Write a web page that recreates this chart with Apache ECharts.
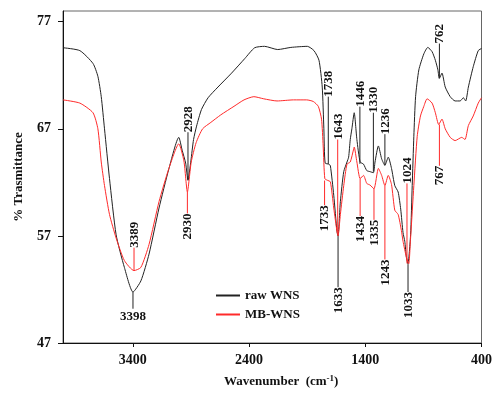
<!DOCTYPE html>
<html>
<head>
<meta charset="utf-8">
<script src="https://cdn.jsdelivr.net/npm/echarts@6/dist/echarts.min.js"></script>
<style>html,body{margin:0;padding:0;background:#fff}#c{width:495px;height:393px}</style>
</head>
<body>
<div id="c"></div>
<script>
// ---- data (wavenumber cm-1, % transmittance) ----
const rawWN = [4000,3855,3742,3700,3671,3643,3600,3543,3472,3398,3330,3260,3174,3089,3004,2975,2945,2925,2900,2877,2851,2809,2752,2667,2550,2437,2351,2266,2153,2040,1898,1841,1798,1770,1756,1745,1713,1700,1671,1643,1634,1614,1585,1557,1543,1529,1515,1495,1472,1444,1415,1387,1359,1330,1316,1287,1259,1231,1202,1174,1146,1117,1095,1075,1060,1046,1033,1010,996,982,967,939,896,862,825,797,775,763,740,712,669,627,584,556,536,513,471,428,400];
const rawT  = [74.57,74.3,73.1,71.9,70.0,67.0,62.35,57.1,54.06,51.76,52.8,55.3,59.6,63.27,66.2,65.0,63.8,62.2,64.0,66.0,67.25,68.8,69.9,70.9,72.2,73.55,74.57,74.7,74.4,74.6,74.7,74.3,73.4,70.9,67.0,63.8,63.7,63.55,60.8,57.4,57.0,60.2,63.0,63.9,64.35,66.0,67.0,68.5,66.0,63.9,63.7,63.1,63.0,62.9,63.9,65.4,64.2,63.6,64.35,63.3,61.7,61.1,59.5,57.3,56.5,55.0,54.4,57.1,61.7,66.3,70.0,72.5,74.0,74.6,74.2,73.4,72.5,71.7,72.2,70.9,70.0,69.6,69.6,69.9,69.6,70.9,72.8,74.3,74.5];
const mbWN  = [4000,3855,3742,3700,3671,3643,3600,3543,3472,3389,3330,3260,3174,3089,3004,2960,2930,2897,2855,2799,2728,2643,2529,2443,2358,2273,2159,2017,1904,1847,1804,1776,1762,1748,1727,1700,1671,1643,1634,1614,1585,1557,1529,1500,1495,1472,1444,1415,1387,1359,1325,1287,1259,1231,1202,1174,1146,1117,1089,1075,1046,1026,1010,982,953,925,896,868,825,797,768,740,712,669,627,570,542,513,471,428,400];
const mbT   = [69.7,69.4,68.5,67.0,63.9,61.7,59.0,56.8,54.7,53.76,54.06,56.2,60.2,63.3,65.6,64.0,61.1,63.9,65.7,67.0,67.6,68.3,69.1,69.7,70.0,69.8,69.6,69.7,69.7,69.55,69.1,67.9,65.4,62.35,62.2,62.05,59.6,57.4,57.0,59.0,61.7,63.7,63.9,65.1,65.3,63.9,62.35,62.65,61.9,61.75,61.4,63.3,62.65,61.7,62.65,61.8,59.4,59.0,57.5,56.5,55.0,54.4,56.8,61.7,66.3,68.2,69.1,69.8,69.4,68.5,67.4,67.9,67.0,66.2,65.9,66.2,66.0,67.3,68.2,69.4,69.9];

// ---- peak annotations ----
const annLabels = ['3398','3389','2928','2930','1738','1733','1643','1633','1446','1330','1434','1335','1236','1243','1024','1033','762','767'];
const annSeries = ['raw','mb','raw','mb','raw','mb','mb','raw','raw','raw','mb','mb','raw','mb','mb','raw','raw','mb'];
const annX      = [3398,3389,2925,2930,1718,1750,1637,1634,1446,1330,1444,1325,1231,1231,1041,1032,762,762];
const annCurve  = [51.76,53.76,62.2,61.1,63.73,62.17,57.3,57.0,63.73,63.0,62.35,61.43,63.57,61.7,54.43,54.37,71.75,67.4];
const annEnd    = [50.2,55.9,66.68,59.1,70.0,59.86,66.0,52.2,69.07,68.5,58.85,58.5,66.5,54.8,61.9,51.76,74.96,63.55];
const annHorizontal = ['3398'];

const xTicks = [3400,2400,1400,400];
const yTicks = [47,57,67,77];

const seriesNames = {raw:'raw WNS', mb:'MB-WNS'};
const colors = {raw:'#222222', mb:'#ff2a2a'};
const FONT = '"Liberation Serif","Times New Roman",serif';

const chart = echarts.init(document.getElementById('c'));
chart.setOption({
  animation:false,
  backgroundColor:'#fff',
  grid:{left:63,right:9,top:11,bottom:46,show:true,borderColor:'#666',borderWidth:1,backgroundColor:'transparent'},
  legend:{
    orient:'vertical',left:211,top:284,itemWidth:24,itemHeight:2,itemGap:6,icon:'rect',
    data:[seriesNames.raw,seriesNames.mb],
    textStyle:{fontFamily:FONT,fontWeight:'bold',fontSize:13,color:'#111'}
  },
  xAxis:{
    type:'value',min:400,max:4000,inverse:true,
    name:'Wavenumber  (cm{sup|-1})',nameLocation:'middle',nameGap:31,
    nameTextStyle:{fontFamily:FONT,fontWeight:'bold',fontSize:13,color:'#111',padding:[0,0,0,18],
      rich:{sup:{fontFamily:FONT,fontWeight:'bold',fontSize:9,verticalAlign:'top',padding:[0,0,6,0]}}},
    axisLine:{lineStyle:{color:'#111',width:1}},
    axisTick:{show:true,length:4,customValues:xTicks,lineStyle:{color:'#111'}},
    axisLabel:{customValues:xTicks,margin:10,fontFamily:FONT,fontWeight:'bold',fontSize:14,color:'#111',
      formatter:function(v){return String(v);}},
    splitLine:{show:false}
  },
  yAxis:{
    type:'value',min:47,max:78,
    name:'% Trasmittance',nameLocation:'middle',nameGap:38,nameRotate:90,
    nameTextStyle:{fontFamily:FONT,fontWeight:'bold',fontSize:13,color:'#111'},
    axisLine:{show:true,lineStyle:{color:'#111',width:1}},
    axisTick:{show:true,length:5,customValues:yTicks,lineStyle:{color:'#111'}},
    axisLabel:{customValues:yTicks,margin:12,fontFamily:FONT,fontWeight:'bold',fontSize:14,color:'#111',
      formatter:function(v){return String(v);}},
    splitLine:{show:false}
  },
  series:[
    {name:seriesNames.raw,type:'line',showSymbol:false,smooth:0.2,
      data:rawWN.map((w,i)=>[w,rawT[i]]),lineStyle:{color:colors.raw,width:1},itemStyle:{color:colors.raw}},
    {name:seriesNames.mb,type:'line',showSymbol:false,smooth:0.2,
      data:mbWN.map((w,i)=>[w,mbT[i]]),lineStyle:{color:colors.mb,width:1},itemStyle:{color:colors.mb}},
    {type:'custom',z:5,silent:true,
      data:annX.map((x,i)=>[x,annCurve[i],annEnd[i]]),
      encode:{x:0,y:[1,2]},
      renderItem:function(params,api){
        const i=params.dataIndex;
        const p1=api.coord([annX[i],annCurve[i]]);
        const p2=api.coord([annX[i],annEnd[i]]);
        const up=annEnd[i]>annCurve[i];
        const horiz=annHorizontal.indexOf(annLabels[i])>=0;
        const col=colors[annSeries[i]];
        const txt=horiz?
          {type:'text',x:p2[0],y:p2[1]+1,style:{text:annLabels[i],align:'center',verticalAlign:'top',
            font:'bold 13px '+FONT,fill:'#111'}}:
          {type:'text',x:p2[0]+0.5,y:p2[1],rotation:Math.PI/2,style:{text:annLabels[i],align:up?'left':'right',
            verticalAlign:'middle',font:'bold 13px '+FONT,fill:'#111'}};
        return {type:'group',children:[
          {type:'line',shape:{x1:p1[0],y1:p1[1],x2:p2[0],y2:p2[1]},style:{stroke:col,lineWidth:1}},
          txt
        ]};
      }
    }
  ]
});
</script>
</body>
</html>
